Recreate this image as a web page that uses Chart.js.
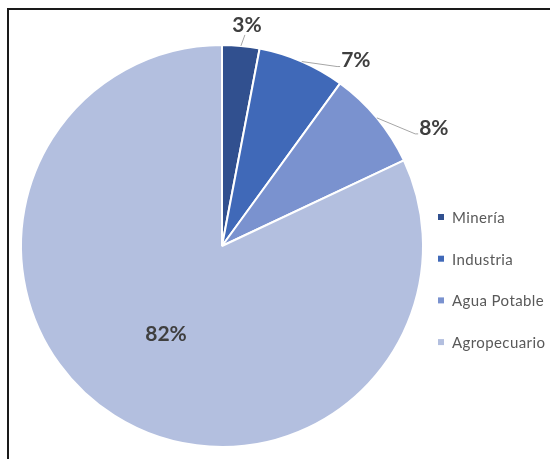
<!DOCTYPE html>
<html>
<head>
<meta charset="utf-8">
<script src="https://cdn.jsdelivr.net/npm/chart.js@4/dist/chart.umd.min.js"></script>
<style>
  html, body { margin: 0; padding: 0; background: #fff; }
  body { width: 550px; height: 459px; position: relative; overflow: hidden; }
  .frame {
    position: absolute; left: 7px; top: 8px; width: 600px; height: 500px;
    border-top: 2px solid #1a1a1a; border-left: 2px solid #1a1a1a;
  }
  #chart { position: absolute; left: 0; top: 0; }
</style>
</head>
<body>
<div class="frame"></div>
<canvas id="chart" width="550" height="459"></canvas>
<script>
// datos del gráfico
const categories = ['Minería', 'Industria', 'Agua Potable', 'Agropecuario'];
const shares = [3, 7, 8, 82];
const sliceColors = ['#31508f', '#4069b8', '#7a92cf', '#b3bfdf'];

// desplazamiento de cada etiqueta respecto al borde del sector (null = dentro)
const labelOffsets = [[6, -21], [54, -1], [57, 10], null];

const LABEL_FONT = 'bold 21px Lato';
const LEGEND_FONT = '15px Lato';

const pieLabels = {
  id: 'pieLabels',
  afterDatasetsDraw(chart) {
    const { ctx } = chart;
    const arcs = chart.getDatasetMeta(0).data;

    ctx.save();
    ctx.font = LABEL_FONT;
    ctx.fillStyle = '#3f3f3f';
    ctx.textAlign = 'center';
    ctx.textBaseline = 'middle';

    arcs.forEach((arc, i) => {
      const mid = (arc.startAngle + arc.endAngle) / 2;
      const text = `${shares[i]}%`;
      const offset = labelOffsets[i];

      if (!offset) {
        const r = arc.outerRadius * 0.52;
        ctx.fillText(text, arc.x + Math.cos(mid) * r, arc.y + Math.sin(mid) * r);
        return;
      }

      const ax = arc.x + Math.cos(mid) * arc.outerRadius;
      const ay = arc.y + Math.sin(mid) * arc.outerRadius;
      const lx = ax + offset[0];
      const ly = ay + offset[1];
      const half = ctx.measureText(text).width / 2;

      // línea guía
      ctx.strokeStyle = '#a6a6a6';
      ctx.lineWidth = 1;
      ctx.beginPath();
      ctx.moveTo(ax, ay);
      if (offset[0] > 20) {
        ctx.lineTo(lx - half - 4, ly + 6);
        ctx.lineTo(lx - half - 1, ly + 6);
      } else {
        ctx.lineTo(lx - 2, ly + 10);
      }
      ctx.stroke();

      ctx.fillText(text, lx, ly);
    });

    ctx.restore();
  }
};

const sideLegend = {
  id: 'sideLegend',
  afterDraw(chart) {
    const { ctx } = chart;
    const x = 438;
    const top = 217;
    const step = 41.7;

    ctx.save();
    ctx.font = LEGEND_FONT;
    ctx.letterSpacing = '0.4px';
    ctx.textBaseline = 'middle';
    ctx.textAlign = 'left';

    categories.forEach((name, i) => {
      const y = top + i * step;
      ctx.fillStyle = sliceColors[i];
      ctx.fillRect(x, y - 3, 6, 6);
      ctx.fillStyle = '#595959';
      ctx.fillText(name, x + 14, y + 1);
    });

    ctx.restore();
  }
};

new Chart(document.getElementById('chart'), {
  type: 'pie',
  data: {
    labels: categories,
    datasets: [{
      data: shares,
      backgroundColor: sliceColors,
      borderColor: '#ffffff',
      borderWidth: 2,
      hoverOffset: 0
    }]
  },
  options: {
    responsive: false,
    animation: false,
    events: [],
    layout: {
      padding: { left: 20, right: 126, top: 44, bottom: 11 }
    },
    plugins: {
      legend: { display: false },
      tooltip: { enabled: false }
    }
  },
  plugins: [pieLabels, sideLegend]
});
</script>
</body>
</html>
